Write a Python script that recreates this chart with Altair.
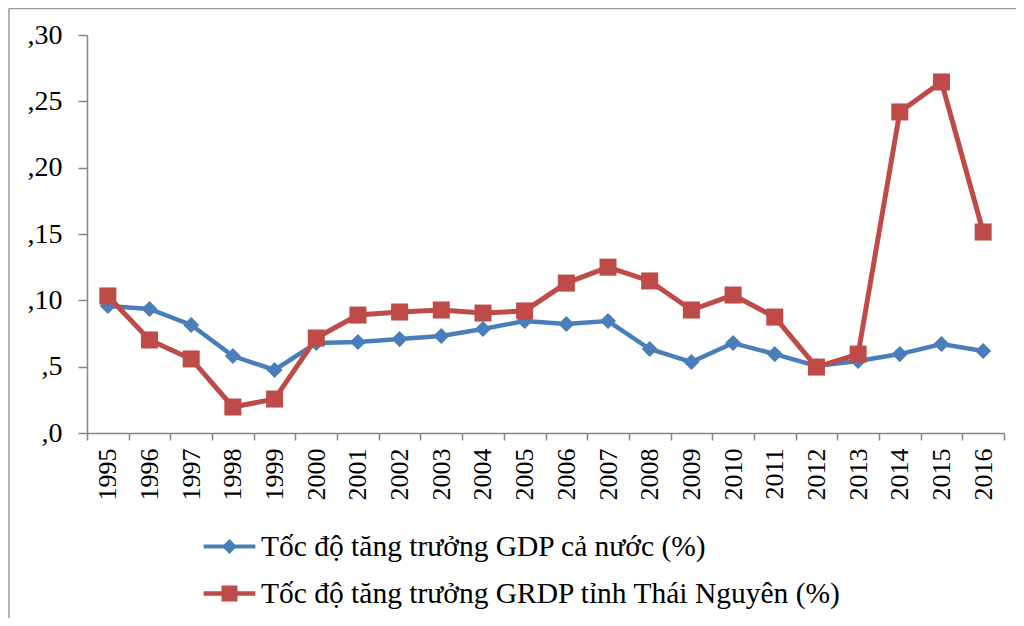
import altair as alt
import pandas as pd

years = [str(y) for y in range(1995, 2017)]
gdp_vn = [0.0957, 0.0935, 0.0814, 0.0580, 0.0475, 0.0678, 0.0686, 0.0708, 0.0731, 0.0784,
          0.0844, 0.0822, 0.0844, 0.0633, 0.0535, 0.0678, 0.0595, 0.0505, 0.0543, 0.0595,
          0.0671, 0.0618]
grdp_tn = [0.1033, 0.0701, 0.0558, 0.0196, 0.0256, 0.0716, 0.0889, 0.0912, 0.0927, 0.0904,
           0.0920, 0.1130, 0.1250, 0.1146, 0.0927, 0.1040, 0.0874, 0.0497, 0.0595, 0.2420,
           0.2646, 0.1515]
series_names = ["Tốc độ tăng trưởng GDP cả nước (%)",
                "Tốc độ tăng trưởng GRDP tỉnh Thái Nguyên (%)"]
colors = ["#4A7EBB", "#BE4B48"]
y_ticks = [0, 0.05, 0.10, 0.15, 0.20, 0.25, 0.30]

df = pd.DataFrame({
    "year": years * 2,
    "value": gdp_vn + grdp_tn,
    "series": [series_names[0]] * len(years) + [series_names[1]] * len(years),
})

FONT = "Liberation Serif"
AX = "#868686"

x_enc = alt.X("year:O", sort=years,
              scale=alt.Scale(type="band", paddingInner=0, paddingOuter=0),
              axis=alt.Axis(title=None, labelAngle=-90, labelFontSize=26, labelFont=FONT,
                            labelColor="black", tickBand="extent", tickColor=AX,
                            domainColor=AX, tickSize=7, labelPadding=8, grid=False,
                            domainWidth=1.5, tickWidth=1.5))
y_scale = alt.Scale(domain=[0, 0.30], nice=False, zero=True)
y_enc = alt.Y("value:Q", scale=y_scale,
              axis=alt.Axis(title=None, values=y_ticks, grid=False,
                            labelExpr="',' + round(datum.value * 100)",
                            labelFontSize=28, labelFont=FONT, labelColor="black",
                            tickColor=AX, domainColor=AX, tickSize=9, labelPadding=16,
                            domainWidth=1.5, tickWidth=1.5))

base = alt.Chart(df)
layers = []
shapes = ["diamond", "square"]
sizes = [260, 290]
widths = [4.5, 5]
for i, name in enumerate(series_names):
    sub = base.transform_filter(alt.datum.series == name)
    layers.append(sub.mark_line(color=colors[i], strokeWidth=widths[i]).encode(x=x_enc, y=y_enc))
    layers.append(sub.mark_point(color=colors[i], filled=True, opacity=1, shape=shapes[i],
                                 size=sizes[i]).encode(x=x_enc, y=y_enc))

legend_paths = [
    "M-1.1,-0.09H1.1V0.09H-1.1Z M0,-0.32L0.32,0L0,0.32L-0.32,0Z",
    "M-1.1,-0.1H1.1V0.1H-1.1Z M-0.34,-0.34H0.34V0.34H-0.34Z",
]
# legend-only layer: its points sit below the plotted range and are clipped away
legend_layer = base.transform_calculate(hidden="-1").mark_point(
    filled=True, clip=True, opacity=1).encode(
    x=x_enc,
    y=alt.Y("hidden:Q", scale=y_scale),
    color=alt.Color("series:N", sort=series_names,
                    scale=alt.Scale(domain=series_names, range=colors),
                    legend=alt.Legend(title=None, orient="none", legendX=119, legendY=488,
                                      direction="vertical", symbolSize=2209,
                                      symbolStrokeWidth=0, symbolOpacity=1,
                                      labelFont=FONT, labelFontSize=29.5, labelColor="black",
                                      labelLimit=1000, labelOffset=8, rowPadding=9,
                                      padding=0)),
    shape=alt.Shape("series:N", sort=series_names,
                    scale=alt.Scale(domain=series_names, range=legend_paths)),
)

frame_df = pd.DataFrame({"a": [0]})
frame_left = alt.Chart(frame_df).mark_rule(color="#999999", strokeWidth=1.5).encode(
    x=alt.value(-78), y=alt.value(-26.5), y2=alt.value(700))
frame_top = alt.Chart(frame_df).mark_rule(color="#999999", strokeWidth=1.5).encode(
    x=alt.value(-78), x2=alt.value(1100), y=alt.value(-26.5))

chart = alt.layer(frame_left, frame_top, legend_layer, *layers,
                  view=alt.ViewBackground(strokeWidth=0)).properties(
    width=917, height=398,
    background="white",
    autosize=alt.AutoSizeParams(type="none"),
    padding={"left": 79, "top": 27, "right": 12, "bottom": 185},
).configure_view(strokeWidth=0, stroke="transparent")

chart.save("out.html", embed_options={"renderer": "svg", "actions": False})
